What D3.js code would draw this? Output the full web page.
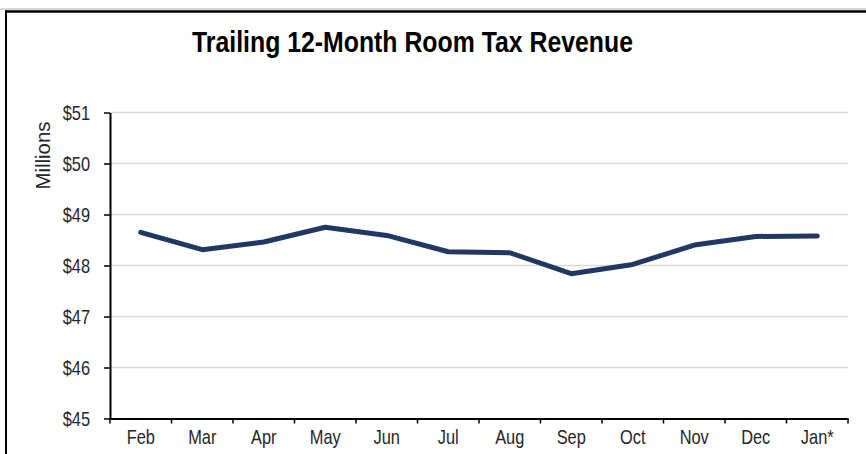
<!DOCTYPE html>
<html>
<head>
<meta charset="utf-8">
<script src="https://cdn.jsdelivr.net/npm/d3@7"></script>
<style>
  html, body { margin: 0; padding: 0; background: #fff; }
  svg { display: block; }
  text { font-family: "Liberation Sans Narrow", "Arial Narrow", "Liberation Sans", Arial, sans-serif; }
</style>
</head>
<body>
<svg id="chart" width="866" height="454"></svg>
<script>
const categories = ["Feb", "Mar", "Apr", "May", "Jun", "Jul", "Aug", "Sep", "Oct", "Nov", "Dec", "Jan*"];
const revenue = [48.65, 48.31, 48.46, 48.75, 48.59, 48.27, 48.25, 47.84, 48.02, 48.40, 48.57, 48.58];
const yTicks = [45, 46, 47, 48, 49, 50, 51];
const titleText = "Trailing 12-Month Room Tax Revenue";
const yAxisLabel = "Millions";

const svg = d3.select("#chart");
const W = 866, H = 454;
const plot = { left: 110, right: 848, top: 112.5, bottom: 418.5 };
const NARROW = 0.78;

function condense(sel, factor) {
  sel.each(function () {
    const len = this.getComputedTextLength();
    d3.select(this).attr("textLength", len * factor).attr("lengthAdjust", "spacingAndGlyphs");
  });
}

// frame
svg.append("line").attr("x1", 0).attr("x2", W).attr("y1", 9).attr("y2", 9)
  .attr("stroke", "#b0b0b0").attr("stroke-width", 1);
svg.append("line").attr("x1", 5).attr("x2", W).attr("y1", 11.5).attr("y2", 11.5)
  .attr("stroke", "#000").attr("stroke-width", 2.5);
svg.append("line").attr("x1", 6).attr("x2", 6).attr("y1", 10.5).attr("y2", H)
  .attr("stroke", "#000").attr("stroke-width", 2);

const x = d3.scaleBand().domain(categories).range([plot.left, plot.right]).padding(0);
const y = d3.scaleLinear().domain([45, 51]).range([plot.bottom, plot.top]);

// gridlines
svg.append("g").selectAll("line").data(yTicks.filter(d => d !== 45)).join("line")
  .attr("x1", plot.left).attr("x2", plot.right)
  .attr("y1", d => y(d)).attr("y2", d => y(d))
  .attr("stroke", "#d9d9d9").attr("stroke-width", 1.5);

// y axis
const yAxis = svg.append("g").attr("transform", `translate(${plot.left},0)`)
  .call(d3.axisLeft(y).tickValues(yTicks).tickFormat(d => "$" + d).tickSize(6).tickSizeOuter(0).tickPadding(14));
yAxis.select(".domain").attr("stroke", "#000").attr("stroke-width", 2);
yAxis.selectAll(".tick line").attr("stroke", "#000").attr("stroke-width", 1.5);
yAxis.selectAll(".tick text").attr("font-size", 21).attr("fill", "#262626")
  .attr("font-family", "'Liberation Sans Narrow', 'Arial Narrow', 'Liberation Sans', sans-serif")
  .call(condense, NARROW);

// x axis
const xAxis = svg.append("g").attr("transform", `translate(0,${plot.bottom})`)
  .call(d3.axisBottom(x).tickSize(0).tickSizeOuter(0).tickPadding(11));
xAxis.select(".domain").attr("stroke", "#000").attr("stroke-width", 2);
xAxis.selectAll(".tick text").attr("font-size", 21).attr("fill", "#262626")
  .attr("font-family", "'Liberation Sans Narrow', 'Arial Narrow', 'Liberation Sans', sans-serif")
  .call(condense, NARROW);
// category boundary ticks
const bounds = categories.map(c => x(c)).concat([x(categories[categories.length - 1]) + x.bandwidth()]);
xAxis.append("g").selectAll("line").data(bounds).join("line")
  .attr("x1", d => d).attr("x2", d => d).attr("y1", 0).attr("y2", 5)
  .attr("stroke", "#000").attr("stroke-width", 1.5);

// line
const line = d3.line()
  .x((d, i) => x(categories[i]) + x.bandwidth() / 2)
  .y(d => y(d));
svg.append("path").datum(revenue).attr("d", line)
  .attr("fill", "none").attr("stroke", "#1f3864").attr("stroke-width", 5)
  .attr("stroke-linecap", "round").attr("stroke-linejoin", "round");

// title
svg.append("text").attr("x", 412.5).attr("y", 52).attr("text-anchor", "middle")
  .attr("font-size", 30).attr("font-weight", "bold").attr("fill", "#000")
  .attr("textLength", 441).attr("lengthAdjust", "spacingAndGlyphs")
  .text(titleText);

// y label
svg.append("text").attr("transform", "translate(50,155.5) rotate(-90)")
  .attr("text-anchor", "middle").attr("font-size", 21).attr("fill", "#262626")
  .attr("textLength", 68).attr("lengthAdjust", "spacingAndGlyphs")
  .text(yAxisLabel);
</script>
</body>
</html>
